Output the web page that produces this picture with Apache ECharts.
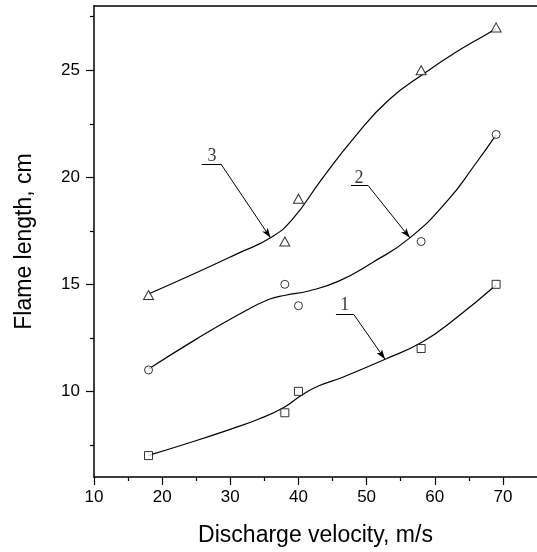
<!DOCTYPE html>
<html>
<head>
<meta charset="utf-8">
<script src="https://cdn.jsdelivr.net/npm/echarts@6/dist/echarts.min.js"></script>
<style>
html,body{margin:0;padding:0;background:#fff;}
#c{width:537px;height:552px;}
</style>
</head>
<body>
<div id="c"></div>
<script>
// Measured points
const velocity = [18, 38, 40, 58, 69];
const length1 = [7, 9, 10, 12, 15];
const length2 = [11, 15, 14, 17, 22];
const length3 = [14.5, 17, 19, 25, 27];

// Fitted curves
const fitX1 = [18, 24, 30.2, 34.2, 37.85, 40.5, 43, 46.4, 52.7, 58.1, 62.9, 69];
const fitY1 = [7.01, 7.6, 8.25, 8.71, 9.25, 9.83, 10.26, 10.65, 11.5, 12.29, 13.37, 14.97];
const fitX2 = [18, 25, 31.3, 35.7, 38.1, 41.5, 45.9, 50.75, 56.35, 61.9, 65.8, 69];
const fitY2 = [11.04, 12.44, 13.6, 14.3, 14.49, 14.69, 15.15, 16.0, 17.17, 18.92, 20.55, 21.98];
const fitX3 = [18, 25, 31.3, 35.9, 39.1, 43.45, 48.3, 53.2, 58.8, 62.9, 67.8, 69];
const fitY3 = [14.55, 15.54, 16.47, 17.17, 18.03, 19.93, 21.9, 23.6, 24.93, 25.8, 26.72, 26.95];

// Tick values
const xTicks = [10, 20, 30, 40, 50, 60, 70];
const xMinorTicks = [15, 25, 35, 45, 55, 65];
const yTicks = [10, 15, 20, 25];
const yMinorTicks = [7.5, 12.5, 17.5, 22.5, 27.5];

// Curve annotations
const annoText = ['1', '2', '3'];
const annoTextX = [46.8, 48.9, 27.3];
const annoTextY = [14.0, 19.95, 20.96];
const annoLineX1 = [45.5, 47.7, 25.8];
const annoLineX2 = [48.1, 50.2, 28.6];
const annoLineY = [13.6, 19.62, 20.63];
const annoTipX = [52.7, 56.35, 35.9];
const annoTipY = [11.5, 17.17, 17.17];

const zip = (a, b) => a.map((v, i) => [v, b[i]]);
const black = '#000';
const sans = 'Liberation Sans, Arial, sans-serif';
const serif = 'Liberation Serif, Times New Roman, serif';

const markerStyle = {color: '#fff', borderColor: black, borderWidth: 1};
const curveStyle = {color: black, width: 1.2};

const markLineData = [];
annoText.forEach((t, i) => {
  markLineData.push([
    {coord: [annoLineX1[i], annoLineY[i]], symbol: 'none'},
    {coord: [annoLineX2[i], annoLineY[i]], symbol: 'none'}
  ]);
  markLineData.push([
    {coord: [annoLineX2[i], annoLineY[i]], symbol: 'none'},
    {coord: [annoTipX[i], annoTipY[i]], symbol: 'arrow', symbolSize: [5, 10]}
  ]);
});

const chart = echarts.init(document.getElementById('c'));
const axisLineStyle = {color: black, width: 1.5};
const curve = (xs, ys) => ({type: 'line', data: zip(xs, ys), smooth: 0.5,
  showSymbol: false, lineStyle: curveStyle, silent: true, z: 2});
chart.setOption({
  backgroundColor: '#fff',
  animation: false,
  grid: {left: 94, right: -3, top: 6, bottom: 74},
  xAxis: [
    {
      type: 'value', min: 10, max: 75, position: 'bottom',
      name: 'Discharge velocity, m/s', nameLocation: 'middle', nameGap: 47,
      nameTextStyle: {fontFamily: sans, fontSize: 23, color: black},
      axisLine: {onZero: false, lineStyle: axisLineStyle},
      axisTick: {customValues: xTicks, length: 8, lineStyle: {color: black, width: 1.2}},
      axisLabel: {customValues: xTicks, margin: 12, fontSize: 17, color: black, fontFamily: sans},
      splitLine: {show: false}
    },
    {
      type: 'value', min: 10, max: 75, position: 'bottom',
      axisLine: {show: false},
      axisTick: {customValues: xMinorTicks, length: 4, lineStyle: {color: black, width: 1.2}},
      axisLabel: {show: false}, splitLine: {show: false}
    },
    {
      type: 'value', min: 10, max: 75, position: 'top',
      axisLine: {show: true, onZero: false, lineStyle: axisLineStyle},
      axisTick: {show: false}, axisLabel: {show: false}, splitLine: {show: false}
    }
  ],
  yAxis: [
    {
      type: 'value', min: 6, max: 28, position: 'left',
      name: 'Flame length, cm', nameLocation: 'middle', nameGap: 58,
      nameTextStyle: {fontFamily: sans, fontSize: 23, color: black},
      axisLine: {show: true, onZero: false, lineStyle: axisLineStyle},
      axisTick: {show: true, customValues: yTicks, length: 8, lineStyle: {color: black, width: 1.2}},
      axisLabel: {customValues: yTicks, margin: 14, fontSize: 17, color: black, fontFamily: sans},
      splitLine: {show: false}
    },
    {
      type: 'value', min: 6, max: 28, position: 'left',
      axisLine: {show: false},
      axisTick: {show: true, customValues: yMinorTicks, length: 4, lineStyle: {color: black, width: 1.2}},
      axisLabel: {show: false}, splitLine: {show: false}
    }
  ],
  series: [
    curve(fitX1, fitY1),
    curve(fitX2, fitY2),
    curve(fitX3, fitY3),
    {type: 'scatter', data: zip(velocity, length1), symbol: 'rect', symbolSize: 8, itemStyle: markerStyle, z: 3},
    {type: 'scatter', data: zip(velocity, length2), symbol: 'circle', symbolSize: 8, itemStyle: markerStyle, z: 3},
    {type: 'scatter', data: zip(velocity, length3), symbol: 'triangle', symbolSize: [10, 9], itemStyle: markerStyle, z: 3},
    {
      type: 'scatter', symbolSize: 0, silent: true, z: 4,
      data: annoText.map((t, i) => ({name: t, value: [annoTextX[i], annoTextY[i]]})),
      label: {show: true, position: 'inside', formatter: '{b}', fontFamily: serif, fontSize: 18, color: black},
      markLine: {
        silent: true, animation: false,
        lineStyle: {color: black, width: 1, type: 'solid'},
        label: {show: false},
        data: markLineData
      }
    }
  ]
});
</script>
</body>
</html>
